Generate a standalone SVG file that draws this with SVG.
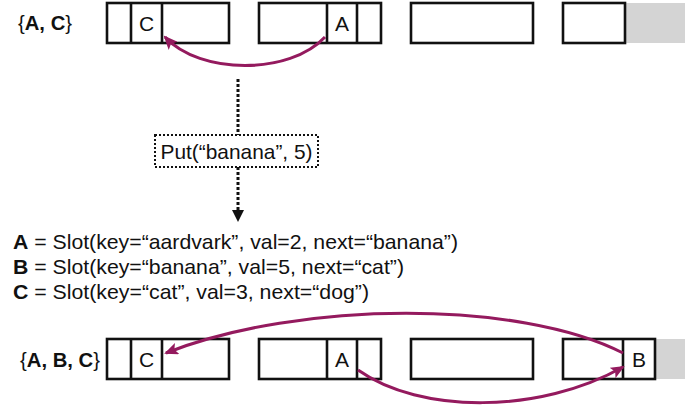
<svg xmlns="http://www.w3.org/2000/svg" width="694" height="408" viewBox="0 0 694 408">
  <defs>
    <style>
      .t { font-family: "Liberation Sans", Arial, Helvetica, sans-serif; font-size: 21px; fill: #111; }
      .b { font-weight: bold; }
      .box { fill: #fff; stroke: #111; stroke-width: 2.6; }
      .cell { fill: none; stroke: #111; stroke-width: 2.6; }
      .gray { fill: #d4d4d4; }
      .link { fill: none; stroke: #941a5e; stroke-width: 3; }
      .dot { fill: none; stroke: #111; stroke-width: 3; stroke-dasharray: 3 2; }
    </style>
    <marker id="ah" viewBox="0 0 14 12" refX="12" refY="6" markerWidth="14" markerHeight="12" markerUnits="userSpaceOnUse" orient="auto">
      <path d="M0,0 L14,6 L0,12 L3,6 z" fill="#941a5e"/>
    </marker>
    <marker id="dh" viewBox="0 0 12 12" refX="0" refY="6" markerWidth="12" markerHeight="12" markerUnits="userSpaceOnUse" orient="auto">
      <path d="M0,0 L12,6 L0,12 z" fill="#111"/>
    </marker>
  </defs>

  <!-- Top state -->
  <g id="label-top">
    <text class="t" x="18" y="30" textLength="54" lengthAdjust="spacingAndGlyphs">{<tspan class="b">A</tspan><tspan class="b">,</tspan> <tspan class="b">C</tspan>}</text>
  </g>
  <g id="top-bucket-1">
    <rect class="box" x="107" y="3" width="122" height="40"/>
    <line class="cell" x1="131" y1="3" x2="131" y2="43"/>
    <line class="cell" x1="162" y1="3" x2="162" y2="43"/>
    <text class="t" x="146.5" y="30.5" text-anchor="middle">C</text>
  </g>
  <g id="top-bucket-2">
    <rect class="box" x="259" y="3" width="122" height="40"/>
    <line class="cell" x1="327" y1="3" x2="327" y2="43"/>
    <line class="cell" x1="357" y1="3" x2="357" y2="43"/>
    <text class="t" x="342" y="30.5" text-anchor="middle">A</text>
  </g>
  <g id="top-bucket-3">
    <rect class="box" x="411" y="3" width="122" height="40"/>
  </g>
  <g id="top-bucket-4">
    <rect class="gray" x="625" y="3" width="60" height="40"/>
    <rect class="box" x="563" y="3" width="62" height="40"/>
  </g>

  <!-- Operation -->
  <g id="put-op">
    <rect class="box" x="155" y="135" width="163" height="32" style="stroke-width:2;stroke-dasharray:2 2"/>
    <text class="t" x="236.5" y="158.5" text-anchor="middle" textLength="152" lengthAdjust="spacingAndGlyphs">Put(“banana”, 5)</text>
  </g>

  <!-- Legend -->
  <g id="legend">
    <text class="t" x="13" y="248.5" textLength="445" lengthAdjust="spacingAndGlyphs"><tspan class="b">A</tspan> = Slot(key=“aardvark”, val=2, next=“banana”)</text>
    <text class="t" x="13" y="273.5" textLength="391" lengthAdjust="spacingAndGlyphs"><tspan class="b">B</tspan> = Slot(key=“banana”, val=5, next=“cat”)</text>
    <text class="t" x="13" y="298.5" textLength="356" lengthAdjust="spacingAndGlyphs"><tspan class="b">C</tspan> = Slot(key=“cat”, val=3, next=“dog”)</text>
  </g>

  <!-- Bottom state -->
  <g id="label-bottom">
    <text class="t" x="20" y="366.5" textLength="80" lengthAdjust="spacingAndGlyphs">{<tspan class="b">A</tspan><tspan class="b">,</tspan> <tspan class="b">B</tspan><tspan class="b">,</tspan> <tspan class="b">C</tspan>}</text>
  </g>
  <g id="bottom-bucket-1">
    <rect class="box" x="107" y="339" width="122" height="40"/>
    <line class="cell" x1="131" y1="339" x2="131" y2="379"/>
    <line class="cell" x1="162" y1="339" x2="162" y2="379"/>
    <text class="t" x="146.5" y="366.5" text-anchor="middle">C</text>
  </g>
  <g id="bottom-bucket-2">
    <rect class="box" x="259" y="339" width="122" height="40"/>
    <line class="cell" x1="327" y1="339" x2="327" y2="379"/>
    <line class="cell" x1="357" y1="339" x2="357" y2="379"/>
    <text class="t" x="342" y="366.5" text-anchor="middle">A</text>
  </g>
  <g id="bottom-bucket-3">
    <rect class="box" x="411" y="339" width="122" height="40"/>
  </g>
  <g id="bottom-bucket-4">
    <rect class="gray" x="655" y="339" width="30" height="40"/>
    <rect class="box" x="563" y="339" width="92" height="40"/>
    <line class="cell" x1="623" y1="339" x2="623" y2="379"/>
    <text class="t" x="639" y="366.5" text-anchor="middle">B</text>
  </g>

  <!-- Connectors -->
  <g id="connectors">
    <path class="link" d="M325,37 C290,75 200,75 165,37" marker-end="url(#ah)"/>
    <line class="dot" x1="238" y1="79" x2="238" y2="135"/>
    <line class="dot" x1="238" y1="167" x2="238" y2="210" marker-end="url(#dh)"/>
    <path class="link" d="M623,353 C520,300 300,300 166,353" marker-end="url(#ah)"/>
    <path class="link" d="M358,370 C420,414 540,414 623,367" marker-end="url(#ah)"/>
  </g>
</svg>
